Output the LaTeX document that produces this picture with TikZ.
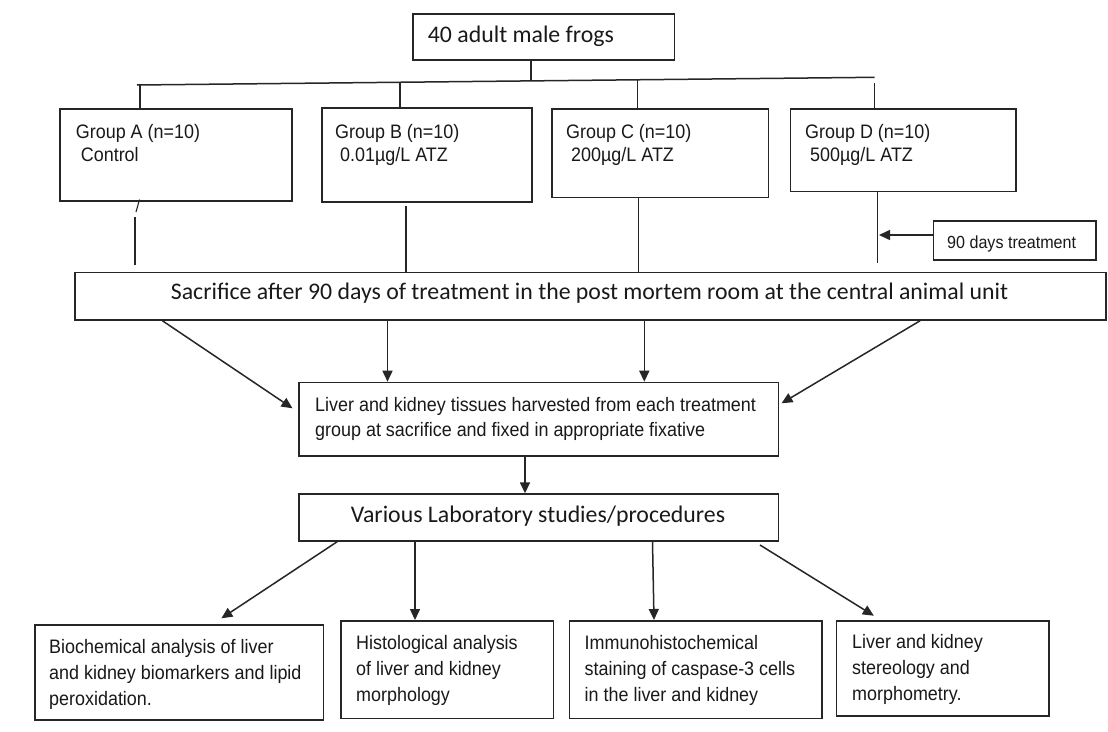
\documentclass[tikz,border=0pt]{standalone}
\usepackage{fontspec}
\usetikzlibrary{arrows.meta,calc}
\newfontfamily\calib{Carlito}
\newfontfamily\arialf[FakeStretch=0.92]{Liberation Sans}
\tikzset{
  bx/.style={draw=black!85, line width=1.5pt, inner sep=0pt, anchor=north west},
  ln/.style={draw=black!85, line width=1.5pt},
  arr/.style={ln, -{Triangle[length=11pt,width=10pt]}},
  cal/.style={font=\calib\fontsize{23.8}{28}\selectfont, inner sep=0pt, text=black!90},
  ari/.style={font=\arialf\fontsize{19.5}{26}\selectfont, inner sep=0pt, anchor=base west, text=black!90},
}
\newcommand\mlines[2]{\vtop{\baselineskip=#1pt\relax #2}}
\begin{document}
\begin{tikzpicture}[x=1pt,y=-1pt]
\useasboundingbox[fill=white] (0,0) rectangle (1108,731);

% boxes
\node[bx, minimum width=261.5pt, minimum height=46.3pt] (top) at (412,13) {};
\node[bx, minimum width=232pt, minimum height=91.7pt] (A) at (59,108.3) {};
\node[bx, minimum width=210pt, minimum height=94.3pt] (B) at (321,107) {};
\node[bx, minimum width=216.8pt, minimum height=88.4pt] (C) at (551,108.3) {};
\node[bx, minimum width=225.5pt, minimum height=82.4pt] (D) at (789.5,108.3) {};
\node[bx, minimum width=162.3pt, minimum height=39.3pt] (days) at (932.7,220) {};
\node[bx, minimum width=1031pt, minimum height=47.6pt] (sac) at (74,271.7) {};
\node[bx, minimum width=479.8pt, minimum height=73.3pt] (liv) at (298,381.7) {};
\node[bx, minimum width=479.8pt, minimum height=46.7pt] (var) at (298,493.3) {};
\node[bx, minimum width=288.5pt, minimum height=95.3pt] (bio) at (34,624) {};
\node[bx, minimum width=212.5pt, minimum height=97.7pt] (his) at (340,620) {};
\node[bx, minimum width=252.5pt, minimum height=97.7pt] (imm) at (568.5,620) {};
\node[bx, minimum width=212.2pt, minimum height=95.3pt] (ste) at (835.8,620) {};

% texts
\node[cal, anchor=base west] (topt) at (427.7,42.3) {40 adult male frogs};
\node[cal, anchor=base] (sact) at (589.5,299.5) {Sacrifice after 90 days of treatment in the post mortem room at the central animal unit};
\node[cal, anchor=base] (vart) at (538,522.5) {Various Laboratory studies/procedures};

\node[ari] (At) at (75.7,138.5) {\mlines{23.3}{\hbox{Group A (n=10)}\hbox{ Control}}};
\node[ari] (Bt) at (335,138) {\mlines{23.3}{\hbox{Group B (n=10)}\hbox{ 0.01µg/L ATZ}}};
\node[ari] (Ct) at (566,138.5) {\mlines{23.3}{\hbox{Group C (n=10)}\hbox{ 200µg/L ATZ}}};
\node[ari] (Dt) at (805,138.5) {\mlines{23.3}{\hbox{Group D (n=10)}\hbox{ 500µg/L ATZ}}};
\node[ari, font=\arialf\fontsize{17.5}{20}\selectfont] (dayst) at (947,248) {90 days treatment};

\node[ari] (livt) at (315,411) {\mlines{25.5}{\hbox{Liver and kidney tissues harvested from each treatment}\hbox{group at sacrifice and fixed in appropriate fixative}}};
\node[ari] (biot) at (49,653) {\mlines{26}{\hbox{Biochemical analysis of liver}\hbox{and kidney biomarkers and lipid}\hbox{peroxidation.}}};
\node[ari] (hist) at (356,649.5) {\mlines{26}{\hbox{Histological analysis}\hbox{of liver and kidney}\hbox{morphology}}};
\node[ari] (immt) at (584.5,649.5) {\mlines{26}{\hbox{Immunohistochemical}\hbox{staining of caspase-3 cells}\hbox{in the liver and kidney}}};
\node[ari] (stet) at (852,648) {\mlines{26}{\hbox{Liver and kidney}\hbox{stereology and}\hbox{morphometry.}}};

% bus
\coordinate (busL) at (137,85);
\coordinate (busR) at (874.6,77.3);
\draw[ln] (busL) -- (busR);
\coordinate (jT) at ($(busL)!0.534!(busR)$);
\draw[ln] (top.south -| jT) -- (jT);
\coordinate (jA) at ($(busL)!0.004!(busR)$);
\coordinate (jB) at ($(busL)!0.3566!(busR)$);
\coordinate (jC) at ($(busL)!0.6786!(busR)$);
\coordinate (jD) at (874.6,83.3);
\draw[ln] (jA) -- (jA |- A.north);
\draw[ln] (jB) -- (jB |- B.north);
\draw[ln] (jC) -- (jC |- C.north);
\draw[ln] (jD) -- (jD |- D.north);

% lines to sacrifice box
\coordinate (a1) at (139.5,199.5);
\coordinate (a2) at (136,212);
\coordinate (a3) at (135,217);
\coordinate (a4) at (135,265);
\draw[ln, line width=1.1pt] (a1) -- (a2);
\draw[ln] (a3) -- (a4);
\coordinate (b1) at (406,206);
\draw[ln] (b1) -- (b1 |- sac.north);
\coordinate (c1) at (638.6,0);
\draw[ln] (c1 |- C.south) -- (c1 |- sac.north);
\coordinate (d1) at (877.4,263.3);
\draw[ln] (d1 |- D.south) -- (d1);
\coordinate (dArr) at (879,235);
\draw[arr] (days.west |- dArr) -- (dArr);

% sacrifice -> liver
\coordinate (s1) at (162.5,0);
\coordinate (t1) at (292.5,408.3);
\draw[arr] (s1 |- sac.south) -- (t1);
\coordinate (s2) at (387.5,0);
\draw[arr] (s2 |- sac.south) -- (s2 |- liv.north);
\coordinate (s3) at (644.3,0);
\draw[arr] (s3 |- sac.south) -- (s3 |- liv.north);
\coordinate (s4) at (920,0);
\coordinate (t4) at (781.5,403.3);
\draw[arr] (s4 |- sac.south) -- (t4);

% liver -> various
\coordinate (lv) at (525,0);
\draw[arr] (lv |- liv.south) -- (lv |- var.north);

% various -> bottom boxes
\coordinate (v1) at (337.5,0);
\coordinate (w1) at (221.4,618.3);
\draw[arr] (v1 |- var.south) -- (w1);
\coordinate (v2) at (415,0);
\draw[arr] (v2 |- var.south) -- (v2 |- his.north);
\coordinate (v3) at (652.5,0);
\coordinate (w3) at (654,0);
\draw[arr] (v3 |- var.south) -- (w3 |- imm.north);
\coordinate (v4) at (760,545);
\coordinate (w4) at (873.8,615.7);
\draw[arr] (v4) -- (w4);
\end{tikzpicture}
\end{document}
